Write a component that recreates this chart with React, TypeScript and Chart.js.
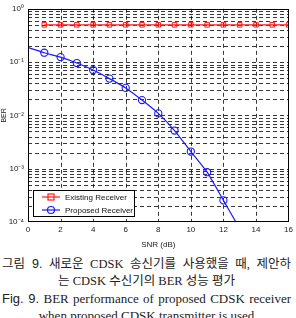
import React, { useEffect, useRef } from "react";
import { Chart, registerables } from "chart.js";

Chart.register(...registerables);

const snrExisting = [1, 2, 3, 4, 5, 6, 7, 8, 9, 10, 11, 12, 13, 14, 15, 16];
const berExisting = [0.5, 0.5, 0.5, 0.5, 0.5, 0.5, 0.5, 0.5, 0.5, 0.5, 0.5, 0.5, 0.5, 0.5, 0.5, 0.5];

const snrProposed = [0, 1, 2, 3, 4, 5, 6, 7, 8, 9, 10, 11, 12, 13];
const berProposed = [0.188, 0.15, 0.124, 0.096, 0.071, 0.049, 0.0328, 0.0194, 0.0109, 0.0052, 0.0021, 0.00086, 0.000255, 0.000075];
const proposedMarkers = [0, 1, 1, 1, 1, 1, 1, 1, 1, 1, 1, 1, 1, 0];

const xTicks = [0, 2, 4, 6, 8, 10, 12, 14, 16];
const yDecades = [-4, -3, -2, -1, 0];
const supMap: Record<string, string> = { "0": "⁰", "1": "¹", "2": "²", "3": "³", "4": "⁴", "-": "⁻" };

const labelExisting = "Existing Receiver";
const labelProposed = "Proposed Receiver";
const xTitle = "SNR (dB)";
const yTitle = "BER";

const RED = "#ff1a1a";
const BLUE = "#1a1aff";

const gridPlugin = {
  id: "dashedGrid",
  beforeDatasetsDraw(chart: any) {
    const { ctx, chartArea, scales } = chart;
    ctx.save();
    ctx.strokeStyle = "rgba(0,0,0,0.78)";
    ctx.lineWidth = 1;
    ctx.setLineDash([4, 3]);
    scales.x.ticks.forEach((t: any) => {
      const px = Math.round(scales.x.getPixelForValue(t.value)) + 0.5;
      if (px <= chartArea.left + 1 || px >= chartArea.right - 1) return;
      ctx.beginPath();
      ctx.moveTo(px, chartArea.top);
      ctx.lineTo(px, chartArea.bottom);
      ctx.stroke();
    });
    scales.y.ticks.forEach((t: any) => {
      const py = Math.round(scales.y.getPixelForValue(t.value)) + 0.5;
      if (py <= chartArea.top + 1 || py >= chartArea.bottom - 1) return;
      ctx.beginPath();
      ctx.moveTo(chartArea.left, py);
      ctx.lineTo(chartArea.right, py);
      ctx.stroke();
    });
    ctx.restore();
  },
};

const borderPlugin = {
  id: "frameBox",
  afterDatasetsDraw(chart: any) {
    const { ctx, chartArea } = chart;
    ctx.save();
    ctx.strokeStyle = "#000";
    ctx.lineWidth = 1;
    ctx.strokeRect(
      Math.round(chartArea.left) + 0.5,
      Math.round(chartArea.top) + 0.5,
      Math.round(chartArea.right - chartArea.left) - 1,
      Math.round(chartArea.bottom - chartArea.top) - 1
    );
    ctx.restore();
  },
};

const legendPlugin = {
  id: "insideLegend",
  afterDraw(chart: any) {
    const { ctx, chartArea } = chart;
    const x0 = Math.round(chartArea.left + 5);
    const y0 = Math.round(chartArea.bottom - 32);
    const w = 101;
    const h = 26;
    ctx.save();
    ctx.fillStyle = "#fff";
    ctx.fillRect(x0, y0, w, h);
    ctx.strokeStyle = "#000";
    ctx.lineWidth = 1;
    ctx.strokeRect(x0 + 0.5, y0 + 0.5, w, h);
    const items = chart.data.datasets;
    items.forEach((ds: any, i: number) => {
      const cy = y0 + 7 + i * 13;
      ctx.strokeStyle = ds.borderColor;
      ctx.lineWidth = 1.2;
      ctx.beginPath();
      ctx.moveTo(x0 + 9, cy);
      ctx.lineTo(x0 + 27, cy);
      ctx.stroke();
      if (ds.pointStyle === "rect") {
        ctx.strokeRect(x0 + 15, cy - 3, 6, 6);
      } else {
        ctx.beginPath();
        ctx.arc(x0 + 18, cy, 3.5, 0, Math.PI * 2);
        ctx.stroke();
      }
      ctx.fillStyle = "#111";
      ctx.font = "8px 'Liberation Sans', Arial, sans-serif";
      ctx.textBaseline = "middle";
      ctx.textAlign = "left";
      ctx.fillText(ds.label, x0 + 32, cy + 0.5);
    });
    ctx.restore();
  },
};

function toLabel(v: number): string {
  const e = Math.log10(v);
  const r = Math.round(e);
  if (Math.abs(e - r) > 1e-9) return "";
  const s = String(r).split("").map((c) => supMap[c] || c).join("");
  return "10" + s;
}

export default function App() {
  const canvasRef = useRef<HTMLCanvasElement | null>(null);

  useEffect(() => {
    if (!canvasRef.current) return;
    const chart = new Chart(canvasRef.current, {
      type: "line",
      data: {
        datasets: [
          {
            label: labelExisting,
            data: snrExisting.map((x, i) => ({ x, y: berExisting[i] })),
            borderColor: RED,
            backgroundColor: "rgba(0,0,0,0)",
            borderWidth: 1.2,
            pointStyle: "rect",
            pointRadius: 3.2,
            pointBorderWidth: 1,
            pointBorderColor: RED,
            pointBackgroundColor: "rgba(0,0,0,0)",
            fill: false,
            tension: 0,
          },
          {
            label: labelProposed,
            data: snrProposed.map((x, i) => ({ x, y: berProposed[i] })),
            borderColor: BLUE,
            backgroundColor: "rgba(0,0,0,0)",
            borderWidth: 1.2,
            pointStyle: "circle",
            pointRadius: proposedMarkers.map((m) => (m ? 3.6 : 0)),
            pointBorderWidth: 1.1,
            pointBorderColor: BLUE,
            pointBackgroundColor: "rgba(0,0,0,0)",
            fill: false,
            tension: 0.15,
          },
        ],
      },
      options: {
        animation: false,
        responsive: false,
        maintainAspectRatio: false,
        layout: { padding: { left: 0, right: 7, top: 7, bottom: 0 } },
        plugins: { legend: { display: false }, tooltip: { enabled: false } },
        scales: {
          x: {
            type: "linear",
            min: 0,
            max: 16,
            afterBuildTicks(scale: any) {
              scale.ticks = xTicks.map((v) => ({ value: v }));
            },
            afterFit(scale: any) {
              scale.height = 28;
            },
            grid: { display: false, drawTicks: false },
            border: { display: false },
            ticks: {
              color: "#222",
              font: { family: "'Liberation Sans', Arial, sans-serif", size: 8 },
              padding: 3,
              maxRotation: 0,
              autoSkip: false,
            },
            title: {
              display: true,
              text: xTitle,
              color: "#222",
              font: { family: "'Liberation Sans', Arial, sans-serif", size: 8 },
              padding: { top: 1, bottom: 0 },
            },
          },
          y: {
            type: "logarithmic",
            min: 1e-4,
            max: 1,
            afterBuildTicks(scale: any) {
              const t: any[] = [];
              yDecades.forEach((d) => {
                if (d === 0) {
                  t.push({ value: 1 });
                } else {
                  for (let m = 1; m <= 9; m++) t.push({ value: m * Math.pow(10, d) });
                }
              });
              scale.ticks = t;
            },
            afterFit(scale: any) {
              scale.width = 28;
            },
            grid: { display: false, drawTicks: false },
            border: { display: false },
            ticks: {
              color: "#222",
              font: { family: "'Liberation Sans', Arial, sans-serif", size: 8 },
              padding: 4,
              autoSkip: false,
              callback: (v: any) => toLabel(Number(v)),
            },
            title: {
              display: true,
              text: yTitle,
              color: "#222",
              font: { family: "'Liberation Sans', Arial, sans-serif", size: 7 },
              padding: { top: 0, bottom: 0 },
            },
          },
        },
      } as any,
      plugins: [gridPlugin, borderPlugin, legendPlugin],
    });
    return () => chart.destroy();
  }, []);

  const sans = "'Liberation Sans', 'Noto Sans CJK KR', Arial, sans-serif";
  const serif = "'Liberation Serif', 'Noto Sans CJK KR', serif";
  const lineStyle: React.CSSProperties = {
    height: 17,
    lineHeight: "17px",
    whiteSpace: "nowrap",
    overflow: "visible",
  };

  return (
    <div style={{ position: "fixed", left: 0, top: 0, width: 296, height: 318, overflow: "hidden", background: "#fff" }}>
      <canvas ref={canvasRef} width={296} height={250} style={{ display: "block", width: 296, height: 250 }} />
      <div style={{ position: "absolute", left: 2, top: 256, width: 289, fontFamily: serif, fontSize: 12.5, color: "#222" }}>
        <div style={{ ...lineStyle, textAlign: "justify", textAlignLast: "justify", whiteSpace: "normal" }}>
          <span style={{ fontFamily: sans }}>그림 9.</span> 새로운 CDSK 송신기를 사용했을 때, 제안하
        </div>
        <div style={{ ...lineStyle, textAlign: "center" }}>는 CDSK 수신기의 BER 성능 평가</div>
        <div style={{ ...lineStyle, fontSize: 13, textAlign: "justify", textAlignLast: "justify", whiteSpace: "normal" }}>
          <span style={{ fontFamily: sans }}>Fig. 9.</span> BER performance of proposed CDSK receiver
        </div>
        <div style={{ ...lineStyle, fontSize: 13, textAlign: "center" }}>when proposed CDSK transmitter is used</div>
      </div>
    </div>
  );
}
